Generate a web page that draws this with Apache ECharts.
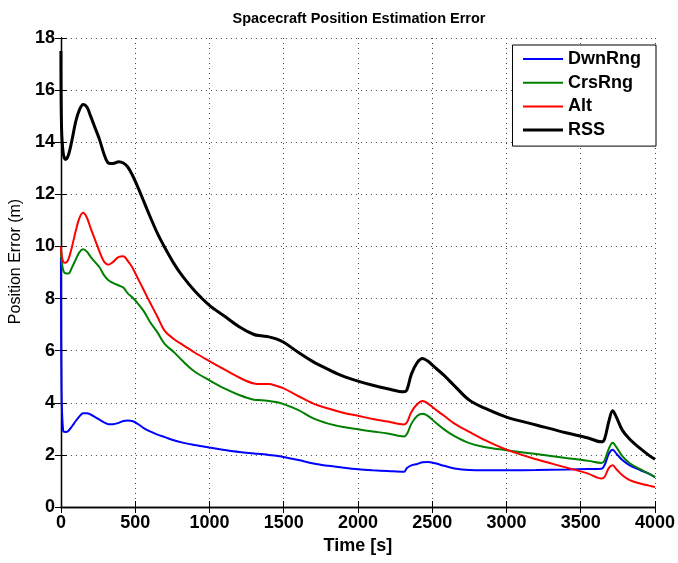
<!DOCTYPE html>
<html>
<head>
<meta charset="utf-8">
<script src="https://cdn.jsdelivr.net/npm/echarts@6/dist/echarts.min.js"></script>
<style>
html,body{margin:0;padding:0;background:#fff;}
#chart{width:678px;height:563px;}
</style>
</head>
<body>
<div id="chart"></div>
<script>
const timeS = [0, 4, 15, 30, 50, 75, 100, 125, 150, 175, 200, 230, 260, 290, 320, 350, 390, 420, 450, 480, 520, 560, 600, 650, 700, 760, 820, 900, 1000, 1100, 1200, 1300, 1350, 1400, 1450, 1500, 1600, 1700, 1800, 1900, 2000, 2100, 2200, 2310, 2330, 2360, 2400, 2435, 2470, 2520, 2580, 2650, 2750, 2850, 3000, 3200, 3400, 3550, 3640, 3660, 3690, 3715, 3740, 3780, 3830, 3900, 3960, 4000];

const dwnRng = [9.6, 4.5, 2.92, 2.88, 2.92, 3.1, 3.3, 3.48, 3.6, 3.6, 3.55, 3.45, 3.35, 3.25, 3.18, 3.18, 3.23, 3.3, 3.32, 3.3, 3.18, 3.02, 2.9, 2.78, 2.68, 2.56, 2.47, 2.38, 2.28, 2.19, 2.11, 2.05, 2.03, 2.0, 1.97, 1.92, 1.80, 1.67, 1.58, 1.51, 1.45, 1.41, 1.38, 1.35, 1.5, 1.6, 1.65, 1.72, 1.73, 1.68, 1.58, 1.48, 1.42, 1.41, 1.41, 1.42, 1.44, 1.46, 1.47, 1.6, 2.05, 2.20, 2.05, 1.8, 1.6, 1.42, 1.27, 1.15];

const crsRng = [9.86, 9.5, 9.1, 8.97, 8.96, 9.2, 9.5, 9.78, 9.89, 9.8, 9.6, 9.4, 9.2, 8.9, 8.7, 8.6, 8.5, 8.42, 8.2, 8.05, 7.8, 7.5, 7.1, 6.7, 6.25, 5.95, 5.6, 5.2, 4.86, 4.55, 4.3, 4.12, 4.1, 4.07, 4.03, 3.95, 3.72, 3.4, 3.2, 3.07, 2.98, 2.9, 2.82, 2.71, 2.8, 3.2, 3.5, 3.58, 3.5, 3.25, 2.98, 2.72, 2.45, 2.3, 2.18, 2.03, 1.88, 1.77, 1.69, 1.78, 2.25, 2.47, 2.3, 1.95, 1.68, 1.45, 1.28, 1.15];

const alt = [10.0, 9.7, 9.42, 9.37, 9.5, 10.0, 10.6, 11.1, 11.29, 11.1, 10.7, 10.25, 9.8, 9.42, 9.3, 9.4, 9.6, 9.62, 9.45, 9.2, 8.75, 8.3, 7.85, 7.3, 6.75, 6.45, 6.22, 5.93, 5.6, 5.28, 4.97, 4.74, 4.72, 4.72, 4.65, 4.55, 4.25, 3.97, 3.78, 3.62, 3.50, 3.38, 3.28, 3.17, 3.25, 3.65, 3.95, 4.07, 3.98, 3.75, 3.5, 3.2, 2.88, 2.58, 2.2, 1.83, 1.52, 1.28, 1.09, 1.15, 1.5, 1.60, 1.45, 1.22, 1.03, 0.9, 0.82, 0.77];

const rss = [17.5, 14.6, 13.6, 13.34, 13.5, 14.1, 14.8, 15.25, 15.45, 15.35, 15.0, 14.55, 14.1, 13.55, 13.2, 13.18, 13.25, 13.2, 13.05, 12.75, 12.25, 11.7, 11.15, 10.5, 9.95, 9.35, 8.85, 8.3, 7.74, 7.33, 6.92, 6.62, 6.57, 6.53, 6.45, 6.32, 5.93, 5.57, 5.28, 5.02, 4.83, 4.67, 4.54, 4.42, 4.5, 5.1, 5.55, 5.70, 5.6, 5.35, 5.05, 4.65, 4.1, 3.8, 3.45, 3.15, 2.85, 2.65, 2.50, 2.6, 3.3, 3.69, 3.45, 2.95, 2.6, 2.25, 1.98, 1.83];

const seriesNames = ['DwnRng', 'CrsRng', 'Alt', 'RSS'];
const seriesColors = ['#0000ff', '#008000', '#ff0000', '#000000'];
const seriesWidths = [2, 2, 2, 3];
const seriesValues = [dwnRng, crsRng, alt, rss];

const xTicks = [0, 500, 1000, 1500, 2000, 2500, 3000, 3500, 4000];
const yTicks = [0, 2, 4, 6, 8, 10, 12, 14, 16, 18];

const FONT = '"Liberation Sans", Arial, Helvetica, sans-serif';

function pairs(vals) { return timeS.map((t, i) => [t, vals[i]]); }

const chart = echarts.init(document.getElementById('chart'), null, {renderer: 'canvas'});

const axisLineStyle = {show: true, lineStyle: {color: '#000', width: 1.3}};
const tickStyle = {show: true, inside: true, length: 6, lineStyle: {color: '#000', width: 1}};
const gridLine = {show: true, lineStyle: {color: '#444', width: 1, type: [1, 4]}};

chart.setOption({
  animation: false,
  backgroundColor: '#fff',
  title: {
    text: 'Spacecraft Position Estimation Error',
    left: 354, textAlign: 'center', top: 6,
    textStyle: {fontFamily: FONT, fontWeight: 'bold', fontSize: 14.5, color: '#000'}
  },
  grid: {left: 60, right: 23, top: 38, bottom: 56, containLabel: false},
  legend: {
    orient: 'vertical', right: 22, top: 45,
    backgroundColor: '#fff', borderColor: '#000', borderWidth: 1,
    padding: [5, 15, 7, 9],
    itemWidth: 40, itemHeight: 14, itemGap: 5.7, itemTextGap: 5,
    itemStyle: {color: 'rgba(0,0,0,0)', borderWidth: 0, opacity: 0},
    textStyle: {fontFamily: FONT, fontWeight: 'bold', fontSize: 18, color: '#000'},
    data: seriesNames.map((n, k) => ({name: n, lineStyle: {width: seriesWidths[k], color: seriesColors[k]}}))
  },
  xAxis: [{
    type: 'value', min: xTicks[0], max: xTicks[xTicks.length - 1], interval: 500,
    position: 'bottom',
    name: 'Time [s]', nameLocation: 'middle', nameGap: 30,
    nameTextStyle: {fontFamily: FONT, fontWeight: 'bold', fontSize: 18, color: '#000'},
    axisLine: axisLineStyle, axisTick: tickStyle, splitLine: gridLine,
    axisLabel: {fontFamily: FONT, fontWeight: 'bold', fontSize: 18, color: '#000', margin: 7,
      formatter: v => String(v)}
  }, {
    type: 'value', min: xTicks[0], max: xTicks[xTicks.length - 1], interval: 500,
    position: 'top',
    axisLine: axisLineStyle, axisTick: tickStyle, splitLine: {show: false},
    axisLabel: {show: false}
  }],
  yAxis: [{
    type: 'value', min: yTicks[0], max: yTicks[yTicks.length - 1], interval: 2,
    position: 'left',
    name: 'Position Error (m)', nameLocation: 'middle', nameGap: 31,
    nameTextStyle: {fontFamily: FONT, fontSize: 16, color: '#000', padding: [0, 0, 0, 22]},
    axisLine: axisLineStyle, axisTick: tickStyle, splitLine: gridLine,
    axisLabel: {fontFamily: FONT, fontWeight: 'bold', fontSize: 18, color: '#000', margin: 6,
      formatter: v => String(v)}
  }, {
    type: 'value', min: yTicks[0], max: yTicks[yTicks.length - 1], interval: 2,
    position: 'right',
    axisLine: axisLineStyle, axisTick: tickStyle, splitLine: {show: false},
    axisLabel: {show: false}
  }],
  series: seriesNames.map((name, k) => ({
    name: name, type: 'line', xAxisIndex: 0, yAxisIndex: 0,
    data: pairs(seriesValues[k]),
    showSymbol: false, symbol: 'none', smooth: 0.35,
    lineStyle: {color: seriesColors[k], width: seriesWidths[k]},
    itemStyle: {color: seriesColors[k]},
    z: 2 + k
  }))
});
</script>
</body>
</html>
